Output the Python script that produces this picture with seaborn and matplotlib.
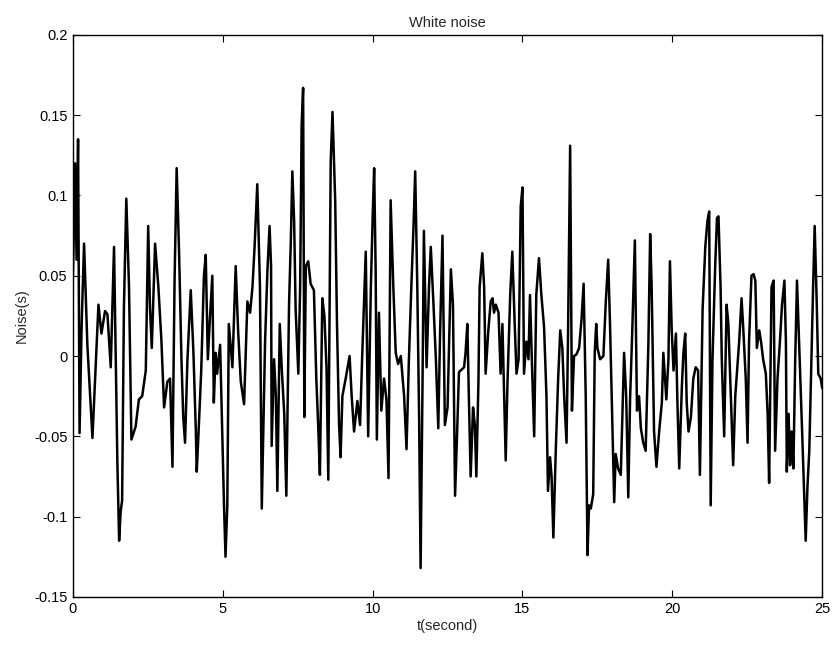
import matplotlib
matplotlib.use("Agg")
import matplotlib.pyplot as plt
import seaborn as sns
import pandas as pd

t_sec = [0.00, 0.07, 0.12, 0.17, 0.22, 0.29, 0.37, 0.48, 0.65, 0.85, 0.95, 1.07, 1.15, 1.26, 1.37, 1.48, 1.54, 1.59, 1.64, 1.70,
         1.78, 1.87, 1.95, 2.09, 2.20, 2.31, 2.43, 2.51, 2.57, 2.63, 2.74, 2.85, 2.95, 3.04, 3.15, 3.24, 3.32, 3.39, 3.46, 3.54,
         3.62, 3.68, 3.74, 3.82, 3.93, 4.02, 4.10, 4.13, 4.18, 4.28, 4.37, 4.43, 4.50, 4.56, 4.65, 4.70, 4.76, 4.81, 4.91, 4.98,
         5.04, 5.09, 5.15, 5.20, 5.32, 5.43, 5.51, 5.60, 5.71, 5.82, 5.91, 5.99, 6.06, 6.15, 6.24, 6.30, 6.41, 6.49, 6.56, 6.61,
         6.63, 6.71, 6.77, 6.82, 6.90, 6.97, 7.05, 7.12, 7.21, 7.27, 7.32, 7.38, 7.43, 7.52, 7.58, 7.63, 7.68, 7.72, 7.77, 7.85,
         7.93, 8.04, 8.12, 8.19, 8.24, 8.32, 8.39, 8.46, 8.52, 8.60, 8.66, 8.75, 8.81, 8.88, 8.93, 8.99, 9.10, 9.23, 9.30, 9.38,
         9.49, 9.58, 9.66, 9.77, 9.85, 9.94, 10.00, 10.05, 10.10, 10.14, 10.21, 10.29, 10.38, 10.46, 10.53, 10.60, 10.69, 10.77, 10.85, 10.94,
         11.05, 11.13, 11.21, 11.29, 11.36, 11.42, 11.49, 11.55, 11.60, 11.66, 11.71, 11.80, 11.88, 11.94, 12.03, 12.11, 12.19, 12.25, 12.33, 12.41,
         12.50, 12.61, 12.68, 12.75, 12.82, 12.88, 13.05, 13.10, 13.16, 13.21, 13.27, 13.35, 13.41, 13.46, 13.53, 13.57, 13.66, 13.72, 13.77, 13.86,
         13.94, 14.00, 14.05, 14.11, 14.20, 14.27, 14.33, 14.39, 14.44, 14.50, 14.59, 14.66, 14.74, 14.80, 14.87, 14.94, 15.00, 15.05, 15.13, 15.20,
         15.25, 15.33, 15.39, 15.46, 15.55, 15.63, 15.72, 15.80, 15.85, 15.92, 15.97, 16.03, 16.11, 16.19, 16.26, 16.33, 16.39, 16.47, 16.52, 16.59,
         16.65, 16.72, 16.80, 16.89, 16.97, 17.04, 17.11, 17.17, 17.22, 17.28, 17.36, 17.41, 17.46, 17.50, 17.59, 17.70, 17.78, 17.86, 17.92, 18.00,
         18.06, 18.11, 18.19, 18.28, 18.39, 18.46, 18.53, 18.59, 18.66, 18.75, 18.82, 18.89, 18.95, 19.03, 19.11, 19.20, 19.26, 19.31, 19.39, 19.47,
         19.56, 19.65, 19.70, 19.76, 19.80, 19.87, 19.92, 19.98, 20.04, 20.12, 20.17, 20.23, 20.32, 20.37, 20.43, 20.48, 20.54, 20.62, 20.70, 20.78,
         20.86, 20.92, 21.01, 21.10, 21.17, 21.23, 21.28, 21.34, 21.43, 21.49, 21.54, 21.61, 21.65, 21.73, 21.81, 21.87, 21.95, 22.03, 22.10, 22.17,
         22.23, 22.31, 22.37, 22.45, 22.51, 22.56, 22.64, 22.71, 22.77, 22.82, 22.90, 22.96, 23.03, 23.12, 23.18, 23.23, 23.31, 23.38, 23.43, 23.51,
         23.59, 23.66, 23.74, 23.79, 23.82, 23.88, 23.93, 23.98, 24.04, 24.10, 24.16, 24.23, 24.34, 24.42, 24.45, 24.51, 24.57, 24.64, 24.70, 24.75,
         24.82, 24.87, 24.95, 25.00]

noise = [0.050, 0.120, 0.060, 0.135, -0.048, 0.020, 0.070, 0.007, -0.051, 0.032, 0.014, 0.028, 0.026, -0.007, 0.068, -0.065, -0.115, -0.097, -0.090, 0.030,
         0.098, 0.043, -0.052, -0.044, -0.027, -0.025, -0.009, 0.081, 0.030, 0.005, 0.070, 0.043, 0.010, -0.032, -0.016, -0.014, -0.069, 0.047, 0.117, 0.065,
         -0.002, -0.038, -0.054, -0.002, 0.041, 0.002, -0.047, -0.072, -0.052, -0.009, 0.050, 0.063, -0.002, 0.020, 0.050, -0.029, 0.002, -0.011, 0.007, -0.047,
         -0.093, -0.125, -0.093, 0.020, -0.007, 0.056, 0.016, -0.016, -0.030, 0.034, 0.027, 0.043, 0.068, 0.107, 0.043, -0.095, 0.009, 0.054, 0.081, 0.056,
         -0.056, -0.002, -0.025, -0.084, 0.020, -0.009, -0.036, -0.087, 0.032, 0.072, 0.115, 0.084, 0.029, -0.011, 0.043, 0.144, 0.167, -0.038, 0.056, 0.059,
         0.045, 0.041, -0.014, -0.047, -0.074, 0.036, 0.025, -0.007, -0.077, 0.121, 0.152, 0.097, 0.020, -0.043, -0.063, -0.025, -0.014, 0.000, -0.025, -0.047,
         -0.028, -0.043, 0.005, 0.065, -0.050, 0.043, 0.086, 0.117, 0.054, -0.052, 0.027, -0.034, -0.014, -0.027, -0.076, 0.097, 0.043, 0.002, -0.005, 0.000,
         -0.025, -0.058, -0.002, 0.043, 0.079, 0.115, 0.043, -0.038, -0.132, -0.025, 0.078, -0.007, 0.043, 0.068, 0.032, -0.002, -0.045, 0.014, 0.075, -0.043,
         -0.032, 0.054, 0.032, -0.087, -0.047, -0.010, -0.007, 0.002, 0.020, -0.025, -0.075, -0.032, -0.043, -0.075, -0.016, 0.043, 0.064, 0.043, -0.011, 0.016,
         0.034, 0.036, 0.027, 0.032, 0.027, -0.011, 0.020, -0.025, -0.065, -0.016, 0.038, 0.065, 0.020, -0.011, -0.002, 0.093, 0.105, -0.011, 0.009, -0.002,
         0.038, -0.014, -0.050, 0.038, 0.061, 0.038, 0.018, -0.025, -0.084, -0.063, -0.075, -0.113, -0.059, -0.014, 0.016, 0.005, -0.025, -0.054, 0.014, 0.131,
         -0.034, 0.000, 0.001, 0.005, 0.023, 0.045, -0.025, -0.124, -0.093, -0.095, -0.086, 0.002, 0.020, 0.005, -0.002, 0.000, 0.034, 0.060, 0.020, -0.043,
         -0.091, -0.061, -0.070, -0.074, 0.002, -0.025, -0.088, -0.027, 0.014, 0.072, -0.034, -0.025, -0.045, -0.054, -0.059, 0.007, 0.076, 0.043, -0.047, -0.069,
         -0.047, -0.029, 0.002, -0.016, -0.027, -0.002, 0.059, 0.016, -0.009, 0.014, -0.029, -0.070, -0.018, 0.002, 0.014, -0.029, -0.047, -0.038, -0.014, -0.007,
         -0.009, -0.074, 0.029, 0.068, 0.084, 0.090, -0.093, -0.002, 0.056, 0.086, 0.087, 0.043, -0.002, -0.050, 0.032, 0.020, -0.025, -0.068, -0.025, -0.007,
         0.009, 0.036, 0.016, -0.014, -0.054, 0.009, 0.050, 0.051, 0.047, 0.005, 0.016, 0.009, -0.002, -0.011, -0.036, -0.079, 0.043, 0.047, -0.059, -0.014,
         0.009, 0.032, 0.047, 0.009, -0.072, -0.036, -0.068, -0.047, -0.070, -0.002, 0.047, 0.009, -0.052, -0.099, -0.115, -0.081, -0.059, -0.002, 0.045, 0.081,
         0.032, -0.011, -0.014, -0.020]

x_ticks = [0, 5, 10, 15, 20, 25]
y_ticks = [-0.15, -0.1, -0.05, 0, 0.05, 0.1, 0.15, 0.2]
y_tick_labels = ["-0.15", "-0.1", "-0.05", "0", "0.05", "0.1", "0.15", "0.2"]

sns.set_theme(style="white")
plt.rcParams['font.family'] = ['Liberation Sans', 'DejaVu Sans']

df = pd.DataFrame({"t": t_sec, "noise": noise})

fig = plt.figure(figsize=(8.33, 6.46), dpi=100)
ax = fig.add_axes([0.0876, 0.076, 0.8994, 0.870])
sns.lineplot(data=df, x="t", y="noise", ax=ax, color="black", linewidth=1.8,
             estimator=None, sort=False)

ax.set_xlim(0, 25)
ax.set_ylim(-0.15, 0.2)
ax.set_xticks(x_ticks)
ax.set_xticklabels([str(v) for v in x_ticks])
ax.set_yticks(y_ticks)
ax.set_yticklabels(y_tick_labels)
ax.tick_params(direction="in", length=5, width=0.8, top=True, right=True,
               bottom=True, left=True, labelsize=10.5, colors="black", pad=4)
for s in ax.spines.values():
    s.set_visible(True)
    s.set_color("black")
    s.set_linewidth(1.0)

ax.set_title("White noise", fontsize=10.5, pad=6)
ax.set_xlabel("t(second)", fontsize=10.5, labelpad=2)
ax.set_ylabel("Noise(s)", fontsize=10.5, labelpad=4)
ax.grid(False)

fig.savefig("out.png", dpi=100, facecolor="white")
